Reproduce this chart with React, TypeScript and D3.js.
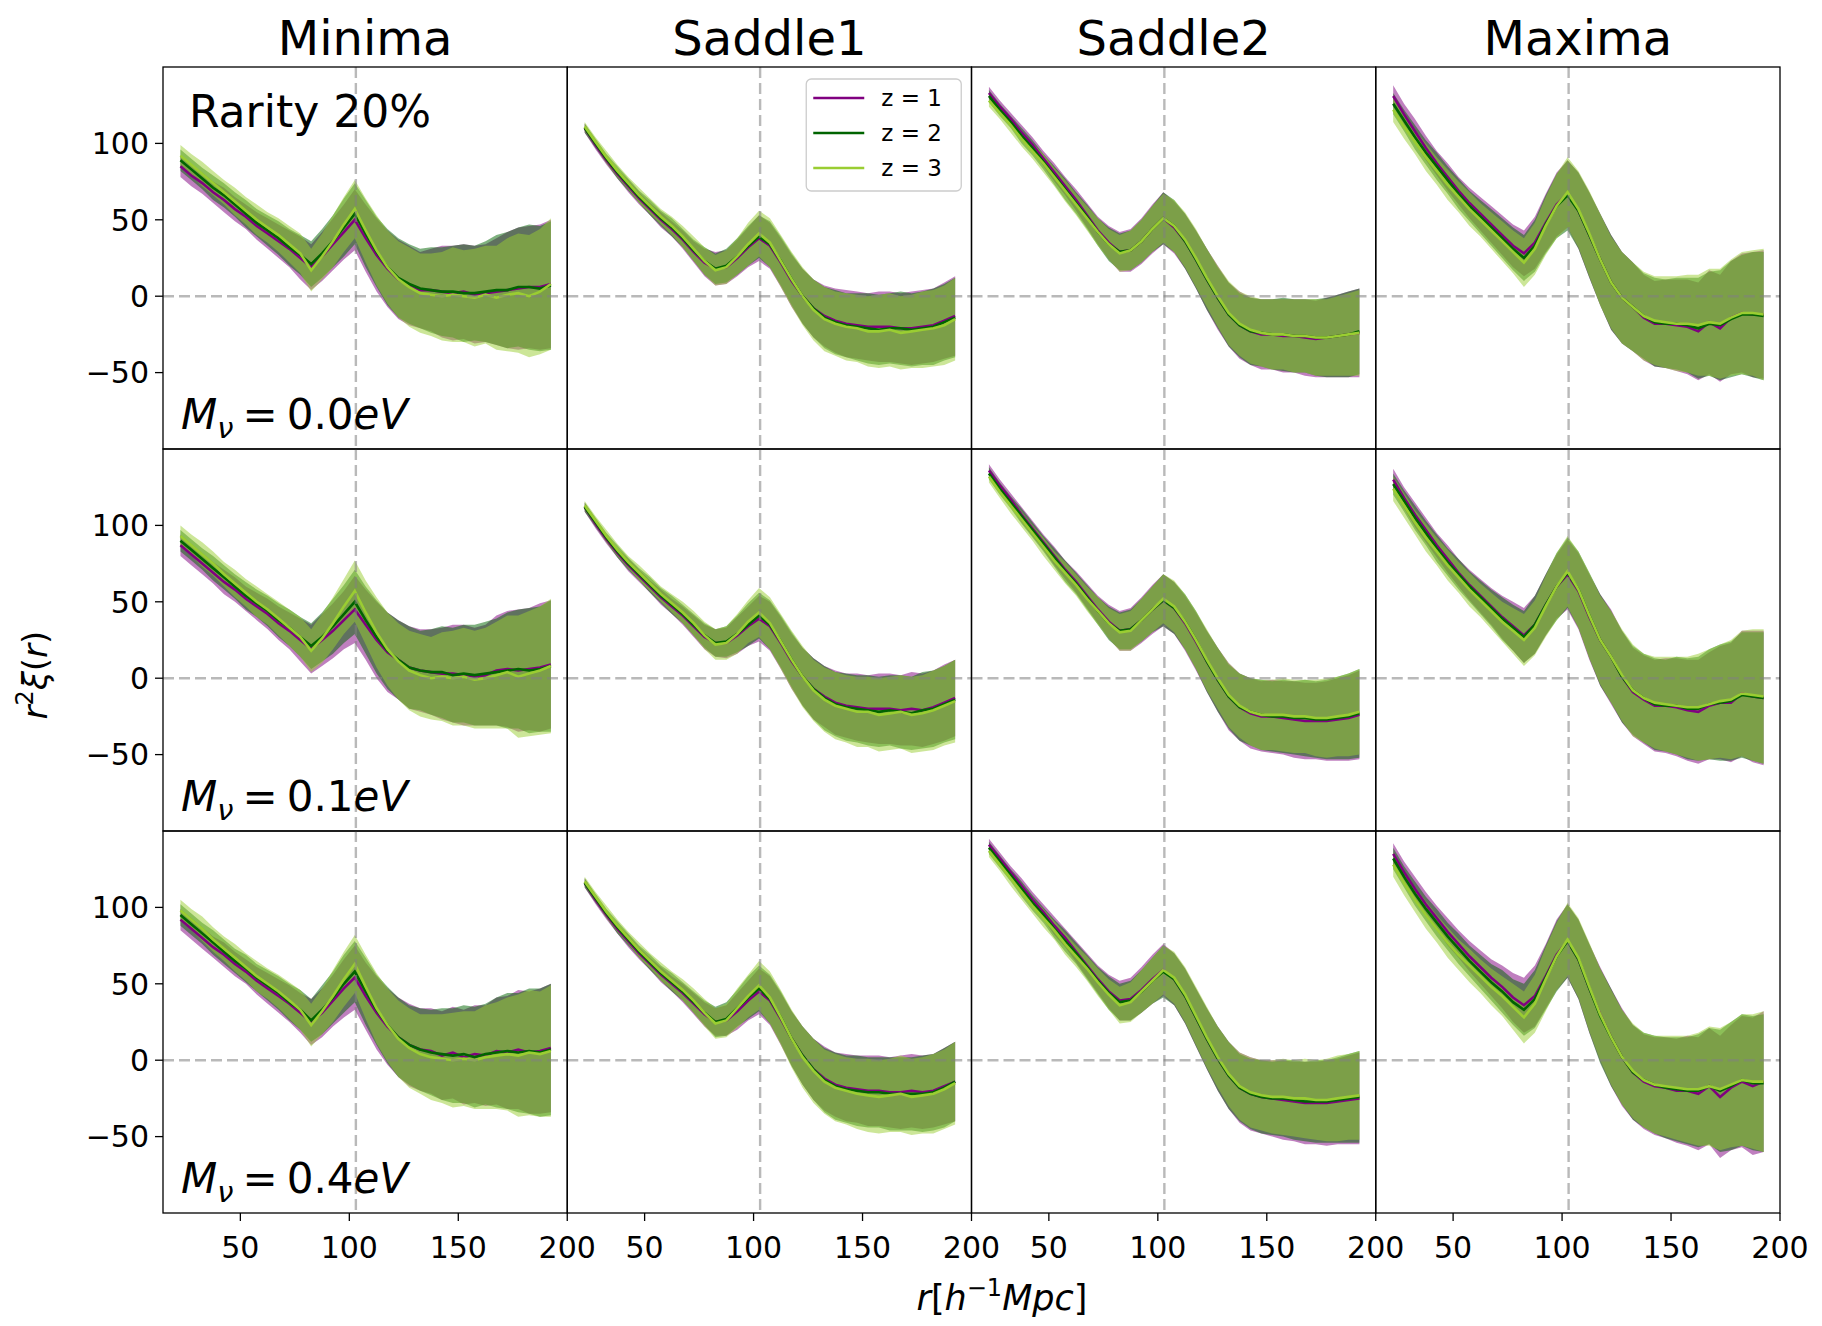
import React from 'react';
import * as d3 from 'd3';

// radial bins, h^-1 Mpc
const R_BINS = [
  22.5, 27.5, 32.5, 37.5, 42.5, 47.5, 52.5, 57.5, 62.5, 67.5, 72.5, 77.5,
  82.5, 87.5, 92.5, 97.5, 102.5, 107.5, 112.5, 117.5, 122.5, 127.5, 132.5,
  137.5, 142.5, 147.5, 152.5, 157.5, 162.5, 167.5, 172.5, 177.5, 182.5,
  187.5, 192.5,
];

const COLUMN_TITLES = ['Minima', 'Saddle1', 'Saddle2', 'Maxima'];
const MNU_VALUES = ['0.0', '0.1', '0.4'];
const Z_LABELS = ['z = 1', 'z = 2', 'z = 3'];
const Z_COLORS = ['#800080', '#006400', '#9acd32'];
const Y_TICKS = [-50, 0, 50, 100];
const X_TICKS = [50, 100, 150, 200];
const BAO_R = 103;

// ---- Minima, Mnu = 0.0 eV
const MIN00_M1 = [85,79,74,68,63,57,52, 46,41,36,31,25,19,26, 34,42,50,38,27,18,11, 7,4,4,3,2,3,1, 2,3,4,5,6,6,8];
const MIN00_M2 = [89,83,77,71,66,60,54, 48,43,38,32,27,21,28, 36,45,54,41,29,19,12, 8,5,4,3,3,2,2, 3,4,4,6,6,5,7];
const MIN00_M3 = [92,86,80,74,68,62,56, 50,45,40,34,28,17,26, 36,47,57,43,30,19,11, 6,2,1,0,1,0,-1, 1,-1,1,2,0,3,8];
const MIN00_E1 = [7,7,7,7,8,8,8, 9,10,11,12,14,15,16, 17,18,20,22,24,25,26, 26,25,27,30,31,31,32, 32,35,38,40,40,41,42];
const MIN00_E2 = [7,7,7,8,8,8,9, 9,10,11,12,13,15,16, 17,19,20,22,23,25,26, 26,26,28,29,30,32,31, 33,36,38,39,41,41,42];
const MIN00_E3 = [7,7,8,8,8,9,9, 10,10,11,12,13,14,15, 17,18,19,21,23,24,25, 26,26,27,29,31,30,32, 32,34,37,39,40,41,43];

// ---- Minima, Mnu = 0.1 eV
const MIN01_M1 = [87,81,75,69,63,58,52, 47,42,36,31,25,19,25, 31,38,45,35,25,17,12, 7,5,4,3,3,2,1, 2,5,6,5,6,7,9];
const MIN01_M2 = [90,84,78,72,66,60,54, 49,44,38,33,27,21,27, 34,42,50,38,27,18,12, 7,5,4,4,2,3,2, 3,4,5,6,5,6,8];
const MIN01_M3 = [93,87,81,75,68,62,56, 50,45,39,33,27,18,26, 36,47,57,43,30,19,11, 5,2,0,1,0,1,-1, 0,2,4,1,3,5,8];
const MIN01_E1 = [7,7,7,7,8,8,8, 9,10,11,12,14,16,17, 18,19,22,23,25,26,26, 27,27,28,30,32,33,32, 33,36,38,40,40,42,42];
const MIN01_E2 = [7,7,7,8,8,8,9, 9,10,11,12,13,15,16, 18,19,21,22,24,25,26, 27,26,28,30,31,32,33, 34,35,38,39,41,41,43];
const MIN01_E3 = [7,7,8,8,8,9,9, 10,10,11,12,13,14,16, 17,18,20,21,23,24,25, 26,27,27,29,31,32,32, 33,35,37,40,41,42,44];

// ---- Minima, Mnu = 0.4 eV
const MIN04_M1 = [92,86,80,74,69,63,58, 52,47,42,37,31,25,31, 39,47,54,42,31,22,15, 10,7,6,3,5,2,4, 3,6,5,7,5,6,8];
const MIN04_M2 = [95,89,83,77,71,65,60, 54,49,44,38,33,26,33, 41,50,58,45,33,23,15, 10,7,5,4,3,4,2, 4,5,6,5,6,5,7];
const MIN04_M3 = [98,92,86,79,73,67,61, 55,50,45,39,33,23,32, 42,53,63,48,34,23,14, 8,4,2,1,0,1,0, 2,3,4,3,5,4,6];
const MIN04_E1 = [7,7,7,7,8,8,8, 9,10,11,12,13,15,16, 17,19,21,22,24,25,26, 27,27,28,29,30,31,32, 33,35,37,39,40,41,42];
const MIN04_E2 = [7,7,7,8,8,8,9, 9,10,11,12,13,14,16, 17,19,20,22,23,25,26, 26,27,28,30,31,32,33, 33,36,38,39,41,42,43];
const MIN04_E3 = [7,7,8,8,8,9,9, 10,10,11,12,13,14,15, 17,18,19,21,23,24,25, 26,26,28,29,31,31,32, 34,35,37,40,41,41,43];

// ---- Saddle1, Mnu = 0.0 eV
const SA100_M1 = [110,99,89,80,72,64,57, 50,44,37,29,22,18,19, 25,32,38,33,22,10,0, -8,-13,-16,-18,-19,-20,-20, -20,-21,-21,-20,-19,-16,-13];
const SA100_M2 = [110,100,90,81,73,65,58, 51,45,38,30,23,18,20, 26,33,39,34,23,11,0, -8,-14,-17,-19,-20,-21,-22, -21,-21,-22,-21,-20,-17,-14];
const SA100_M3 = [111,101,91,82,74,66,59, 52,46,39,31,23,17,19, 26,34,41,35,23,11,0, -9,-15,-18,-20,-21,-23,-23, -22,-24,-23,-22,-21,-19,-15];
const SA100_E1 = [3,3,3,3,4,4,4, 5,5,6,7,9,11,11, 12,13,15,15,16,17,18, 19,20,21,22,22,22,23, 23,23,24,24,24,25,26];
const SA100_E2 = [3,3,3,4,4,4,5, 5,6,6,7,9,10,11, 12,13,14,15,16,17,18, 19,20,21,21,22,23,23, 23,24,24,24,25,25,26];
const SA100_E3 = [3,3,4,4,4,5,5, 5,6,7,8,9,10,11, 12,14,15,16,17,18,19, 20,21,21,22,22,23,24, 24,24,24,25,25,26,27];

// ---- Saddle1, Mnu = 0.1 eV
const SA101_M1 = [112,101,91,82,74,67,60, 53,47,41,34,27,23,23, 28,34,39,34,23,11,1, -7,-12,-16,-18,-19,-20,-20, -20,-21,-20,-21,-19,-16,-13];
const SA101_M2 = [112,102,92,83,75,68,61, 54,48,42,35,28,23,24, 29,35,41,35,24,12,1, -7,-13,-17,-19,-20,-21,-22, -21,-22,-23,-21,-20,-17,-14];
const SA101_M3 = [113,103,93,84,76,69,62, 55,49,43,36,28,22,23, 29,37,43,36,24,12,1, -8,-14,-18,-20,-22,-22,-24, -23,-22,-24,-23,-21,-18,-15];
const SA101_E1 = [3,3,3,3,4,4,4, 5,5,6,7,8,9,10, 12,13,15,16,17,18,19, 20,20,21,21,22,22,23, 23,23,24,24,24,25,25];
const SA101_E2 = [3,3,3,4,4,4,5, 5,6,6,7,8,9,10, 12,14,15,16,17,18,19, 20,21,21,22,22,23,23, 23,24,24,25,25,25,26];
const SA101_E3 = [3,3,4,4,4,5,5, 5,6,7,8,9,10,11, 13,14,16,17,18,19,20, 20,21,22,22,23,23,24, 24,24,25,25,26,26,27];

// ---- Saddle1, Mnu = 0.4 eV
const SA104_M1 = [116,105,95,86,78,70,63, 56,50,44,37,30,25,26, 32,39,45,39,27,14,3, -6,-12,-16,-18,-19,-20,-20, -21,-21,-20,-21,-20,-17,-14];
const SA104_M2 = [116,106,96,87,79,71,64, 57,51,45,38,31,25,27, 34,41,47,40,28,14,3, -6,-13,-17,-19,-20,-21,-21, -22,-22,-22,-22,-21,-18,-14];
const SA104_M3 = [117,107,97,88,80,72,65, 58,52,46,39,31,24,26, 34,42,49,41,28,14,2, -7,-14,-18,-20,-22,-23,-24, -23,-22,-24,-23,-22,-19,-15];
const SA104_E1 = [3,3,3,3,4,4,4, 5,5,6,7,8,9,10, 12,13,15,16,17,18,19, 20,21,21,22,22,23,23, 23,24,24,24,24,25,26];
const SA104_E2 = [3,3,3,4,4,4,5, 5,6,6,7,8,10,11, 12,14,15,16,17,18,19, 20,21,22,22,23,23,23, 24,24,24,25,25,26,26];
const SA104_E3 = [3,3,4,4,4,5,5, 6,6,7,8,9,10,11, 13,14,16,17,18,19,20, 21,21,22,22,23,24,24, 24,25,25,25,26,26,27];

// ---- Saddle2, Mnu = 0.0 eV
const SA200_M1 = [133,124,116,107,99,90,81, 72,63,53,43,35,29,30, 36,44,51,45,36,24,11, -1,-12,-19,-23,-25,-25,-26, -26,-27,-28,-27,-26,-25,-24];
const SA200_M2 = [131,122,114,105,97,88,79, 70,61,52,42,34,29,30, 36,44,51,46,36,24,11, -1,-12,-19,-23,-24,-25,-25, -26,-26,-27,-27,-26,-25,-23];
const SA200_M3 = [128,120,112,103,95,87,78, 69,60,51,42,34,28,30, 36,44,51,46,37,25,12, 0,-11,-18,-22,-24,-25,-25, -26,-26,-27,-27,-26,-25,-24];
const SA200_E1 = [4,4,4,5,5,5,6, 6,7,8,9,11,13,14, 15,16,17,17,18,19,20, 21,21,22,22,23,23,24, 24,25,25,26,27,28,29];
const SA200_E2 = [4,4,4,5,5,5,6, 7,7,8,9,11,12,13, 14,15,17,17,18,19,20, 20,21,21,22,22,23,24, 24,24,25,26,27,28,28];
const SA200_E3 = [4,4,5,5,5,6,6, 7,7,8,9,10,12,13, 14,15,16,17,18,19,19, 20,21,21,22,22,23,23, 24,24,25,25,26,27,28];

// ---- Saddle2, Mnu = 0.1 eV
const SA201_M1 = [136,126,117,107,98,89,80, 71,63,54,45,37,31,32, 38,45,51,46,36,24,11, -1,-12,-19,-23,-25,-25,-26, -27,-28,-28,-28,-27,-26,-24];
const SA201_M2 = [134,124,115,106,97,88,79, 70,62,53,44,36,31,32, 38,45,51,46,37,25,11, -1,-12,-19,-22,-24,-25,-25, -26,-26,-27,-27,-26,-25,-23];
const SA201_M3 = [132,122,113,104,95,86,77, 69,61,52,44,36,30,31, 38,45,52,47,37,25,12, 0,-11,-18,-22,-24,-24,-24, -25,-25,-26,-26,-25,-24,-22];
const SA201_E1 = [4,4,4,5,5,5,6, 6,7,8,9,11,13,14, 15,16,17,17,18,19,20, 21,22,22,23,23,24,24, 25,25,25,26,27,28,29];
const SA201_E2 = [4,4,4,5,5,5,6, 7,7,8,9,11,12,13, 14,15,17,17,18,19,20, 21,21,22,22,23,23,24, 24,25,25,26,27,28,29];
const SA201_E3 = [4,4,5,5,5,6,6, 7,7,8,9,10,12,13, 14,15,16,17,18,19,20, 20,21,21,22,23,23,24, 24,24,25,26,26,27,28];

// ---- Saddle2, Mnu = 0.4 eV
const SA204_M1 = [141,132,123,114,105,97,88, 80,71,62,53,45,39,40, 46,53,59,53,42,28,14, 1,-10,-18,-22,-24,-25,-26, -27,-28,-28,-28,-27,-26,-25];
const SA204_M2 = [139,130,121,112,103,95,86, 78,70,61,52,44,38,39, 45,52,58,53,42,28,14, 1,-10,-18,-22,-24,-25,-25, -26,-27,-27,-27,-26,-25,-24];
const SA204_M3 = [137,128,119,110,101,93,85, 76,68,60,51,43,36,38, 45,52,59,54,43,29,15, 2,-9,-17,-21,-23,-24,-24, -25,-25,-26,-26,-25,-24,-23];
const SA204_E1 = [4,4,4,5,5,5,6, 6,7,8,9,11,13,14, 15,16,17,17,18,19,20, 21,22,23,24,24,25,26, 26,27,27,28,28,29,30];
const SA204_E2 = [4,4,4,5,5,5,6, 7,7,8,9,11,12,13, 14,15,17,17,18,19,20, 21,22,22,23,24,24,25, 26,26,27,27,28,29,30];
const SA204_E3 = [4,4,5,5,5,6,6, 7,7,8,9,10,12,13, 14,15,16,17,18,19,20, 20,21,22,23,23,24,25, 25,26,26,27,28,28,29];

// ---- Maxima, Mnu = 0.0 eV
const MAX00_M1 = [131,119,108,97,87,78,69, 61,54,47,40,33,28,35, 48,60,67,56,40,24,9, -1,-7,-14,-18,-18,-19,-20, -23,-17,-21,-14,-11,-12,-12];
const MAX00_M2 = [126,115,104,94,85,76,67, 59,52,45,38,31,25,33, 47,59,66,56,40,24,9, -1,-7,-13,-17,-18,-18,-19, -21,-18,-19,-15,-12,-12,-13];
const MAX00_M3 = [122,111,101,91,82,73,65, 57,50,43,36,29,22,31, 46,59,68,57,41,24,9, -1,-7,-13,-16,-17,-18,-18, -19,-17,-18,-14,-11,-11,-12];
const MAX00_E1 = [7,7,8,8,8,9,9, 10,11,12,13,14,15,17, 19,21,22,25,28,30,31, 30,29,28,28,29,30,31, 32,34,35,37,39,41,42];
const MAX00_E2 = [7,7,8,8,9,9,10, 10,11,12,13,14,15,17, 19,21,23,25,28,30,31, 30,29,28,29,29,30,31, 33,34,36,38,39,41,42];
const MAX00_E3 = [8,8,8,9,9,10,10, 11,11,12,13,14,16,17, 19,21,23,25,28,30,30, 30,29,29,29,30,31,32, 33,35,36,38,40,41,43];

// ---- Maxima, Mnu = 0.1 eV
const MAX01_M1 = [130,118,107,97,87,78,69, 61,54,47,40,34,28,35, 48,60,68,57,40,25,14, 1,-9,-14,-18,-18,-19,-21, -22,-18,-16,-16,-10,-12,-13];
const MAX01_M2 = [127,116,105,95,85,76,68, 60,53,46,39,33,27,35, 48,60,69,58,41,25,14, 1,-8,-13,-17,-18,-18,-20, -20,-17,-16,-15,-11,-12,-13];
const MAX01_M3 = [124,113,102,92,83,74,66, 58,51,44,37,31,25,33, 47,60,70,58,41,25,14, 2,-8,-13,-16,-17,-18,-19, -19,-17,-15,-14,-10,-11,-12];
const MAX01_E1 = [7,7,8,8,8,9,9, 10,11,12,14,16,18,19, 20,21,23,25,28,30,31, 30,29,29,30,31,32,33, 34,35,37,39,41,43,44];
const MAX01_E2 = [7,7,8,8,9,9,10, 10,11,12,14,15,17,19, 20,22,23,25,28,30,30, 30,29,29,30,30,32,33, 34,36,38,39,41,42,43];
const MAX01_E3 = [8,8,8,9,9,10,10, 11,11,12,13,15,17,18, 20,22,23,25,28,29,30, 30,30,29,30,31,32,33, 35,36,37,39,41,43,44];

// ---- Maxima, Mnu = 0.4 eV
const MAX04_M1 = [135,123,112,102,93,84,76, 68,61,54,48,41,36,42, 55,69,78,66,47,30,15, 2,-8,-14,-17,-18,-20,-20, -22,-17,-24,-18,-14,-17,-14];
const MAX04_M2 = [132,120,109,99,90,81,73, 65,58,51,45,38,33,40, 54,68,78,66,47,29,15, 2,-8,-13,-16,-18,-19,-20, -20,-17,-20,-17,-13,-15,-15];
const MAX04_M3 = [128,116,105,95,86,77,69, 62,55,48,42,35,28,37, 53,68,79,67,48,30,15, 2,-7,-13,-16,-17,-18,-19, -19,-17,-19,-16,-13,-14,-14];
const MAX04_E1 = [7,7,8,8,8,9,9, 10,11,12,14,16,18,20, 21,23,24,26,29,31,32, 32,31,31,32,33,34,36, 37,38,40,41,43,45,46];
const MAX04_E2 = [7,7,8,8,9,9,10, 10,11,12,14,15,17,19, 21,23,24,26,29,31,32, 31,31,31,32,33,34,35, 37,38,40,42,43,44,45];
const MAX04_E3 = [8,8,8,9,9,10,10, 11,11,12,13,15,17,19, 21,22,24,26,29,30,31, 31,31,31,32,33,34,35, 37,39,40,41,43,44,46];

// rows = neutrino mass, columns = critical point type
const PANELS = [
  [
    { means: [MIN00_M1, MIN00_M2, MIN00_M3], errs: [MIN00_E1, MIN00_E2, MIN00_E3] },
    { means: [SA100_M1, SA100_M2, SA100_M3], errs: [SA100_E1, SA100_E2, SA100_E3] },
    { means: [SA200_M1, SA200_M2, SA200_M3], errs: [SA200_E1, SA200_E2, SA200_E3] },
    { means: [MAX00_M1, MAX00_M2, MAX00_M3], errs: [MAX00_E1, MAX00_E2, MAX00_E3] },
  ],
  [
    { means: [MIN01_M1, MIN01_M2, MIN01_M3], errs: [MIN01_E1, MIN01_E2, MIN01_E3] },
    { means: [SA101_M1, SA101_M2, SA101_M3], errs: [SA101_E1, SA101_E2, SA101_E3] },
    { means: [SA201_M1, SA201_M2, SA201_M3], errs: [SA201_E1, SA201_E2, SA201_E3] },
    { means: [MAX01_M1, MAX01_M2, MAX01_M3], errs: [MAX01_E1, MAX01_E2, MAX01_E3] },
  ],
  [
    { means: [MIN04_M1, MIN04_M2, MIN04_M3], errs: [MIN04_E1, MIN04_E2, MIN04_E3] },
    { means: [SA104_M1, SA104_M2, SA104_M3], errs: [SA104_E1, SA104_E2, SA104_E3] },
    { means: [SA204_M1, SA204_M2, SA204_M3], errs: [SA204_E1, SA204_E2, SA204_E3] },
    { means: [MAX04_M1, MAX04_M2, MAX04_M3], errs: [MAX04_E1, MAX04_E2, MAX04_E3] },
  ],
];

const W = 1822;
const H = 1326;
const LEFT = 163;
const TOP = 67;
const PW = 404.25;
const PH = 382;

function Panel({ row, col }: { row: number; col: number }) {
  const x0 = LEFT + col * PW;
  const y0 = TOP + row * PH;
  const x = d3.scaleLinear().domain([14.5, 200]).range([x0, x0 + PW]);
  const y = d3.scaleLinear().domain([-100, 150]).range([y0 + PH, y0]);
  const panel = PANELS[row][col];
  const clipId = `clip-${row}-${col}`;

  const bands = panel.means.map((m, zi) => {
    const e = panel.errs[zi];
    const area = d3
      .area<number>()
      .x((_, i) => x(R_BINS[i]))
      .y0((v, i) => y(v - e[i]))
      .y1((v, i) => y(v + e[i]));
    return area(m) || '';
  });
  const lines = panel.means.map((m) => {
    const line = d3
      .line<number>()
      .x((_, i) => x(R_BINS[i]))
      .y((v) => y(v));
    return line(m) || '';
  });

  const isBottom = row === PANELS.length - 1;
  const isLeft = col === 0;

  return (
    <g>
      <clipPath id={clipId}>
        <rect x={x0} y={y0} width={PW} height={PH} />
      </clipPath>
      <g clipPath={`url(#${clipId})`}>
        {bands.map((d, zi) => (
          <path key={'b' + zi} d={d} fill={Z_COLORS[zi]} fillOpacity={0.5} stroke="none" />
        ))}
        {lines.map((d, zi) => (
          <path key={'l' + zi} d={d} fill="none" stroke={Z_COLORS[zi]} strokeWidth={2.6} />
        ))}
        <line
          x1={x0}
          x2={x0 + PW}
          y1={y(0)}
          y2={y(0)}
          stroke="#808080"
          strokeOpacity={0.55}
          strokeWidth={2.4}
          strokeDasharray="11,5"
        />
        <line
          x1={x(BAO_R)}
          x2={x(BAO_R)}
          y1={y0}
          y2={y0 + PH}
          stroke="#808080"
          strokeOpacity={0.55}
          strokeWidth={2.4}
          strokeDasharray="11,5"
        />
      </g>

      {isLeft &&
        Y_TICKS.map((t) => (
          <g key={'yt' + t}>
            <line x1={x0 - 8} x2={x0} y1={y(t)} y2={y(t)} stroke="#000" strokeWidth={1.3} />
            <text x={x0 - 14} y={y(t)} dy="0.36em" textAnchor="end" fontSize={30}>
              {t < 0 ? `\u2212${Math.abs(t)}` : t}
            </text>
          </g>
        ))}
      {isBottom &&
        X_TICKS.map((t) => (
          <g key={'xt' + t}>
            <line x1={x(t)} x2={x(t)} y1={y0 + PH} y2={y0 + PH + 8} stroke="#000" strokeWidth={1.3} />
            <text x={x(t)} y={y0 + PH + 45} textAnchor="middle" fontSize={30}>
              {t}
            </text>
          </g>
        ))}

      {isLeft && (
        <text x={x0 + 18} y={y0 + PH - 20} fontSize={42}>
          <tspan fontStyle="italic">M</tspan>
          <tspan fontStyle="italic" fontSize={29} dy={9}>ν</tspan>
          <tspan dy={-9} dx={9}>=</tspan>
          <tspan dx={9}>{MNU_VALUES[row]}</tspan>
          <tspan fontStyle="italic">eV</tspan>
        </text>
      )}

      <rect x={x0} y={y0} width={PW} height={PH} fill="none" stroke="#000" strokeWidth={1.3} />
    </g>
  );
}

function Legend() {
  const x0 = LEFT + PW + 239;
  const y0 = TOP + 12;
  return (
    <g>
      <rect
        x={x0}
        y={y0}
        width={155}
        height={112}
        rx={5}
        fill="#fff"
        fillOpacity={0.8}
        stroke="#cccccc"
        strokeWidth={1.3}
      />
      {Z_LABELS.map((lab, i) => {
        const cy = y0 + 19 + i * 35;
        return (
          <g key={lab}>
            <line x1={x0 + 7} x2={x0 + 58} y1={cy} y2={cy} stroke={Z_COLORS[i]} strokeWidth={2.6} />
            <text x={x0 + 75} y={cy} dy="0.36em" fontSize={23}>
              {lab}
            </text>
          </g>
        );
      })}
    </g>
  );
}

export default function App() {
  return (
    <svg
      width={W}
      height={H}
      style={{ position: 'absolute', left: 0, top: 0, fontFamily: '"DejaVu Sans", sans-serif' }}
    >
      <rect x={0} y={0} width={W} height={H} fill="#fff" />
      {PANELS.map((rowPanels, ri) =>
        rowPanels.map((_, ci) => <Panel key={`${ri}-${ci}`} row={ri} col={ci} />)
      )}
      {COLUMN_TITLES.map((t, ci) => (
        <text key={t} x={LEFT + (ci + 0.5) * PW} y={55} textAnchor="middle" fontSize={48}>
          {t}
        </text>
      ))}
      <text x={LEFT + 26} y={TOP + 60} fontSize={44}>
        Rarity 20%
      </text>
      <Legend />
      <text x={1002} y={1310} textAnchor="middle" fontSize={35}>
        <tspan fontStyle="italic">r</tspan>
        <tspan>[</tspan>
        <tspan fontStyle="italic">h</tspan>
        <tspan fontSize={24} dy={-14}>−1</tspan>
        <tspan dy={14} fontStyle="italic">Mpc</tspan>
        <tspan>]</tspan>
      </text>
      <text transform="translate(47,675) rotate(-90)" textAnchor="middle" fontSize={34}>
        <tspan fontStyle="italic">r</tspan>
        <tspan fontSize={24} dy={-14}>2</tspan>
        <tspan dy={14} fontStyle="italic">ξ</tspan>
        <tspan>(</tspan>
        <tspan fontStyle="italic">r</tspan>
        <tspan>)</tspan>
      </text>
    </svg>
  );
}
